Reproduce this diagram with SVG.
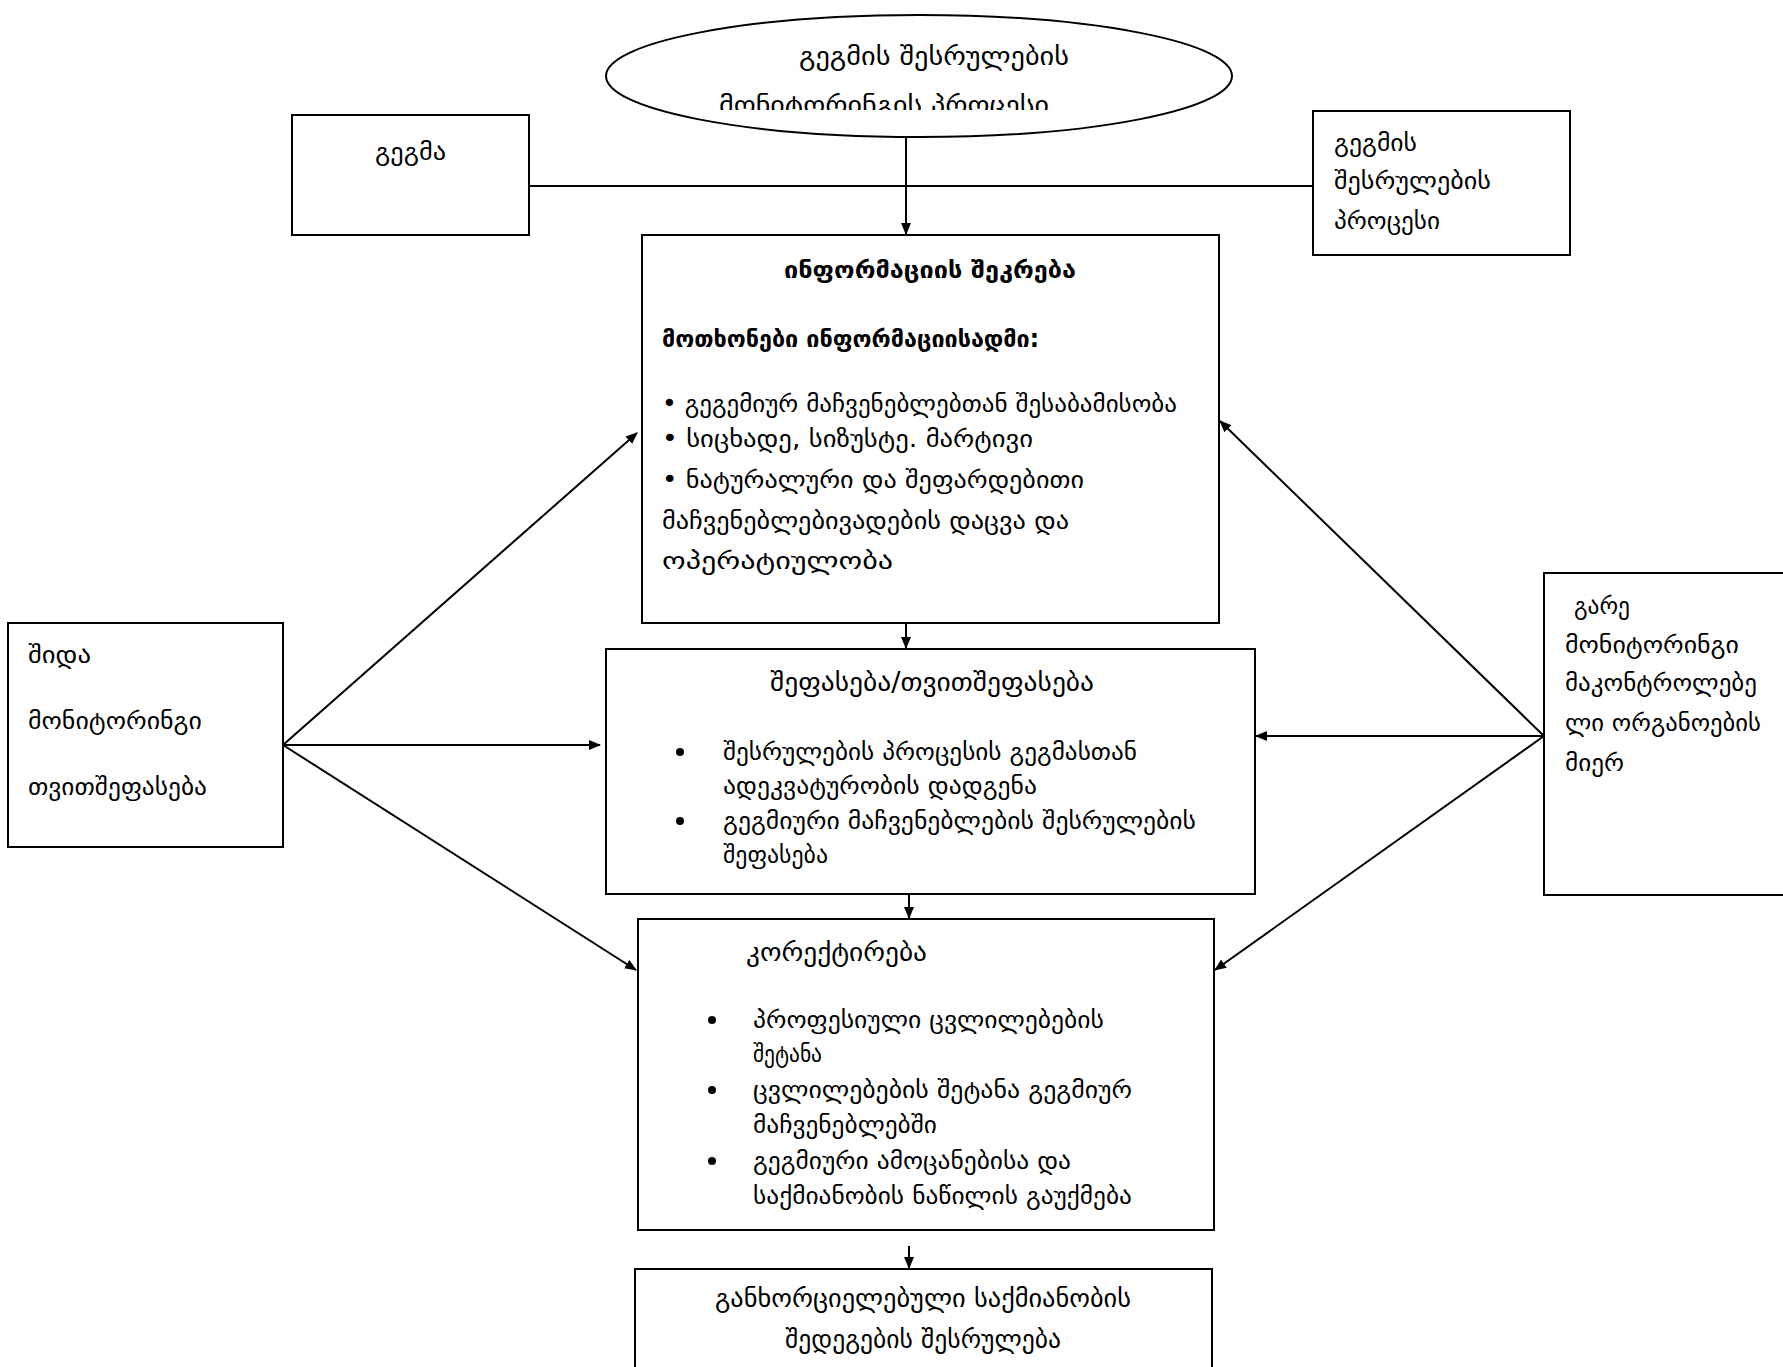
<svg xmlns="http://www.w3.org/2000/svg" width="1783" height="1367" viewBox="0 0 1783 1367">
<style>
.box{fill:#fff;stroke:#000;stroke-width:2}
.t{font-family:"DejaVu Sans","Noto Sans",sans-serif;font-size:24px;fill:#000}
.h{font-size:26px}
.b{font-weight:bold}
.c{text-anchor:middle}
.ln{stroke:#000;stroke-width:2;fill:none}
</style>
<defs>
<marker id="ah" markerWidth="12" markerHeight="10" refX="11" refY="5" orient="auto" markerUnits="userSpaceOnUse">
<path d="M0,0 L12,5 L0,10 Z" fill="#000"/>
</marker>
<clipPath id="ec"><rect x="600" y="0" width="640" height="110"/></clipPath>
</defs>
<rect width="1783" height="1367" fill="#fff"/>

<g id="connectors">
<line class="ln" x1="529" y1="186" x2="1313" y2="186"/>
<line class="ln" x1="906" y1="138" x2="906" y2="234" marker-end="url(#ah)"/>
<line class="ln" x1="906" y1="623" x2="906" y2="648" marker-end="url(#ah)"/>
<line class="ln" x1="909" y1="894" x2="909" y2="918" marker-end="url(#ah)"/>
<line class="ln" x1="909" y1="1246" x2="909" y2="1268" marker-end="url(#ah)"/>
<line class="ln" x1="283" y1="745" x2="637" y2="433" marker-end="url(#ah)"/>
<line class="ln" x1="283" y1="745" x2="600" y2="745" marker-end="url(#ah)"/>
<line class="ln" x1="283" y1="745" x2="636" y2="970" marker-end="url(#ah)"/>
<line class="ln" x1="1544" y1="736" x2="1220" y2="421" marker-end="url(#ah)"/>
<line class="ln" x1="1544" y1="736" x2="1256" y2="736" marker-end="url(#ah)"/>
<line class="ln" x1="1544" y1="736" x2="1215" y2="970" marker-end="url(#ah)"/>
</g>

<g id="ellipse">
<ellipse class="box" cx="919" cy="76" rx="313" ry="61"/>
<text class="t h" x="799" y="65" textLength="270" lengthAdjust="spacingAndGlyphs">გეგმის შესრულების</text>
<text class="t h" x="719" y="114" textLength="330" lengthAdjust="spacingAndGlyphs" clip-path="url(#ec)">მონიტორინგის პროცესი</text>
</g>

<g id="plan">
<rect class="box" x="292" y="115" width="237" height="120"/>
<text class="t" x="375" y="160" textLength="71" lengthAdjust="spacingAndGlyphs">გეგმა</text>
</g>

<g id="process">
<rect class="box" x="1313" y="111" width="257" height="144"/>
<text class="t" x="1334" y="151" textLength="83" lengthAdjust="spacingAndGlyphs">გეგმის</text>
<text class="t" x="1334" y="189" textLength="157" lengthAdjust="spacingAndGlyphs">შესრულების</text>
<text class="t" x="1334" y="229" textLength="106" lengthAdjust="spacingAndGlyphs">პროცესი</text>
</g>

<g id="info">
<rect class="box" x="642" y="235" width="577" height="388"/>
<text class="t b" x="784" y="278" textLength="292" lengthAdjust="spacingAndGlyphs">ინფორმაციის შეკრება</text>
<text class="t b" x="662" y="347" textLength="377" lengthAdjust="spacingAndGlyphs">მოთხონები ინფორმაციისადმი:</text>
<text class="t" x="662" y="412" textLength="515" lengthAdjust="spacingAndGlyphs">• გეგემიურ მაჩვენებლებთან შესაბამისობა</text>
<text class="t" x="662" y="447" textLength="371" lengthAdjust="spacingAndGlyphs">• სიცხადე, სიზუსტე. მარტივი</text>
<text class="t" x="662" y="488" textLength="422" lengthAdjust="spacingAndGlyphs">• ნატურალური  და შეფარდებითი</text>
<text class="t" x="662" y="529" textLength="407" lengthAdjust="spacingAndGlyphs">მაჩვენებლებივადების დაცვა და</text>
<text class="t" x="662" y="569" textLength="231" lengthAdjust="spacingAndGlyphs">ოპერატიულობა</text>
</g>

<g id="internal">
<rect class="box" x="8" y="623" width="275" height="224"/>
<text class="t" x="28" y="663" textLength="63" lengthAdjust="spacingAndGlyphs">შიდა</text>
<text class="t" x="28" y="729" textLength="174" lengthAdjust="spacingAndGlyphs">მონიტორინგი</text>
<text class="t" x="28" y="795" textLength="179" lengthAdjust="spacingAndGlyphs">თვითშეფასება</text>
</g>

<g id="external">
<rect class="box" x="1544" y="573" width="250" height="322"/>
<text class="t" x="1574" y="614" textLength="56" lengthAdjust="spacingAndGlyphs">გარე</text>
<text class="t" x="1565" y="653" textLength="174" lengthAdjust="spacingAndGlyphs">მონიტორინგი</text>
<text class="t" x="1565" y="691" textLength="192" lengthAdjust="spacingAndGlyphs">მაკონტროლებე</text>
<text class="t" x="1565" y="731" textLength="196" lengthAdjust="spacingAndGlyphs">ლი ორგანოების</text>
<text class="t" x="1565" y="771" textLength="59" lengthAdjust="spacingAndGlyphs">მიერ</text>
</g>

<g id="evaluation">
<rect class="box" x="606" y="649" width="649" height="245"/>
<text class="t h" x="770" y="691" textLength="324" lengthAdjust="spacingAndGlyphs">შეფასება/თვითშეფასება</text>
<circle cx="680" cy="752" r="4"/>
<text class="t" x="723" y="760" textLength="414" lengthAdjust="spacingAndGlyphs">შესრულების პროცესის გეგმასთან</text>
<text class="t" x="723" y="794" textLength="314" lengthAdjust="spacingAndGlyphs">ადეკვატურობის დადგენა</text>
<circle cx="680" cy="821" r="4"/>
<text class="t" x="723" y="829" textLength="473" lengthAdjust="spacingAndGlyphs">გეგმიური მაჩვენებლების შესრულების</text>
<text class="t" x="723" y="863" textLength="105" lengthAdjust="spacingAndGlyphs">შეფასება</text>
</g>

<g id="correction">
<rect class="box" x="638" y="919" width="576" height="311"/>
<text class="t h" x="746" y="961" textLength="181" lengthAdjust="spacingAndGlyphs">კორექტირება</text>
<circle cx="712" cy="1020" r="4"/>
<text class="t" x="753" y="1028" textLength="351" lengthAdjust="spacingAndGlyphs">პროფესიული ცვლილებების</text>
<text class="t" x="753" y="1062" textLength="69" lengthAdjust="spacingAndGlyphs">შეტანა</text>
<circle cx="712" cy="1090" r="4"/>
<text class="t" x="753" y="1098" textLength="379" lengthAdjust="spacingAndGlyphs">ცვლილებების შეტანა გეგმიურ</text>
<text class="t" x="753" y="1133" textLength="184" lengthAdjust="spacingAndGlyphs">მაჩვენებლებში</text>
<circle cx="712" cy="1161" r="4"/>
<text class="t" x="753" y="1169" textLength="318" lengthAdjust="spacingAndGlyphs">გეგმიური ამოცანებისა და</text>
<text class="t" x="753" y="1204" textLength="379" lengthAdjust="spacingAndGlyphs">საქმიანობის ნაწილის გაუქმება</text>
</g>

<g id="result">
<rect class="box" x="635" y="1269" width="577" height="120"/>
<text class="t h" x="715" y="1307" textLength="416" lengthAdjust="spacingAndGlyphs">განხორციელებული საქმიანობის</text>
<text class="t h" x="785" y="1348" textLength="276" lengthAdjust="spacingAndGlyphs">შედეგების შესრულება</text>
</g>
</svg>
